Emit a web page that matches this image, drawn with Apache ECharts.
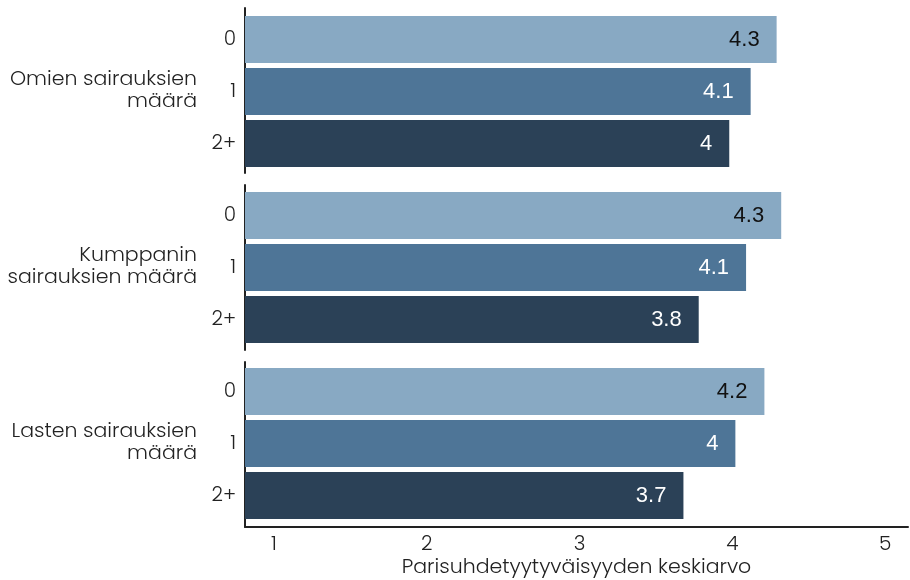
<!DOCTYPE html>
<html>
<head>
<meta charset="utf-8">
<script src="https://cdn.jsdelivr.net/npm/echarts@6/dist/echarts.min.js"></script>
<style>html,body{margin:0;padding:0;background:#fff}#c{width:910px;height:580px}</style>
</head>
<body>
<div id="c"></div>
<script>
const categories = ['0', '1', '2+'];
const groupNames = ['Omien sairauksien\nmäärä', 'Kumppanin\nsairauksien määrä', 'Lasten sairauksien\nmäärä'];
const omat = [4.29, 4.12, 3.98];
const kumppani = [4.32, 4.09, 3.78];
const lapset = [4.21, 4.02, 3.68];
const xTicks = [1, 2, 3, 4, 5];
const xName = 'Parisuhdetyytyväisyyden keskiarvo';

const groupsData = [omat, kumppani, lapset];
const barColors = ['#88a9c3', '#4e7597', '#2b4157'];
const labelColors = ['#111111', '#ffffff', '#ffffff'];
const labelFont = 'Poppins, "DejaVu Sans", sans-serif';
const XMIN = 0.81, XMAX = 5.15;

const grids = [], xAxes = [], yAxes = [], series = [], titles = [];
const barTops = [13.5, 189.5, 365.5];
const axisTops = [8, 185, 362];

groupsData.forEach((vals, g) => {
  grids.push({ left: 245, right: 2, top: barTops[g], height: 156, outerBoundsMode: 'none', containLabel: false });
  xAxes.push({ gridIndex: grids.length - 1, type: 'value', min: XMIN, max: XMAX, show: false });
  yAxes.push({
    gridIndex: grids.length - 1, type: 'category', data: categories, inverse: true,
    axisLine: { show: false }, axisTick: { show: false },
    axisLabel: { color: '#222', fontSize: 20, fontWeight: 300, fontFamily: labelFont, margin: 9 }
  });
  series.push({
    type: 'bar', xAxisIndex: xAxes.length - 1, yAxisIndex: yAxes.length - 1,
    barWidth: 47,
    data: vals.map((v, i) => ({
      value: v,
      itemStyle: { color: barColors[i] },
      label: { color: labelColors[i] }
    })),
    label: {
      show: true, position: 'insideRight', distance: 17,
      fontSize: 22, fontFamily: '"Liberation Sans", Arial, sans-serif',
      formatter: p => String(+p.value.toFixed(1))
    },
    silent: true
  });
  const isLast = g === groupsData.length - 1;
  grids.push({ left: 245, right: 2, top: axisTops[g], height: 165, outerBoundsMode: 'none', containLabel: false });
  xAxes.push({
    gridIndex: grids.length - 1, type: 'value', min: XMIN, max: XMAX,
    show: isLast,
    axisLine: { show: isLast, lineStyle: { color: '#222', width: 2 } },
    axisTick: { show: false },
    splitLine: { show: false },
    axisLabel: { show: isLast, customValues: xTicks, color: '#222', fontSize: 20, fontWeight: 300, fontFamily: labelFont, margin: 8 },
    name: isLast ? xName : '', nameLocation: 'middle', nameGap: 30,
    nameTextStyle: { color: '#222', fontSize: 20.5, fontWeight: 300, fontFamily: labelFont }
  });
  yAxes.push({
    gridIndex: grids.length - 1, type: 'value', min: 0, max: 1,
    axisLine: { show: true, lineStyle: { color: '#222', width: 2 } },
    axisTick: { show: false }, axisLabel: { show: false }, splitLine: { show: false }
  });
  titles.push({
    text: groupNames[g], left: 197, top: barTops[g] + 78 - 23, padding: 0,
    textAlign: 'right',
    textStyle: { color: '#222', fontSize: 20.5, fontWeight: 300, fontFamily: labelFont, lineHeight: 22, align: 'right' }
  });
});

const chart = echarts.init(document.getElementById('c'), null, { renderer: 'canvas' });
chart.setOption({
  animation: false,
  backgroundColor: '#ffffff',
  title: titles,
  grid: grids,
  xAxis: xAxes,
  yAxis: yAxes,
  series: series
});
</script>
</body>
</html>
